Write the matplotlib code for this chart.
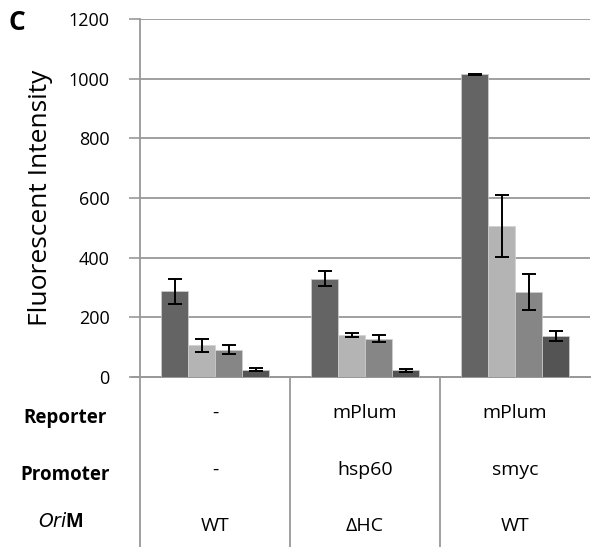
import matplotlib.pyplot as plt
import numpy as np

# fluorescence per construct, four measurements each
constructs = ['WT', 'ΔHC', 'WT']
reporter = ['-', 'mPlum', 'mPlum']
promoter = ['-', 'hsp60', 'smyc']
series_vals = [
    [287, 330, 1015],
    [106, 140, 505],
    [92, 129, 284],
    [25, 22, 137],
]
series_err = [
    [41, 26, 2],
    [21, 7, 104],
    [16, 13, 60],
    [6, 6, 16],
]
colors = ['#646464', '#b4b4b4', '#868686', '#545454']
yticks = [0, 200, 400, 600, 800, 1000, 1200]

plt.rcParams['font.family'] = ['Open Sans', 'DejaVu Sans']

fig = plt.figure(figsize=(5.92, 5.47), dpi=100)
ax = fig.add_axes([140 / 592, 1 - 377 / 547, 450 / 592, 358 / 547])

x = np.arange(len(constructs))
w = 0.18
for i in range(4):
    ax.bar(x + (i - 1.5) * w, series_vals[i], w, color=colors[i],
           edgecolor='#d0d0d0', linewidth=0.5, zorder=3,
           yerr=series_err[i], capsize=5,
           error_kw=dict(ecolor='black', elinewidth=1.4, capthick=1.4, zorder=4))

ax.set_xlim(-0.5, 2.5)
ax.set_ylim(0, 1200)
ax.set_yticks(yticks)
ax.set_yticklabels([str(v) for v in yticks], fontsize=13)
ax.set_xticks([])
ax.yaxis.grid(True, color='#999999', linewidth=1.3, zorder=0)
ax.tick_params(axis='y', length=8, width=1.2, color='#999999', pad=14)
for s in ['top', 'right']:
    ax.spines[s].set_visible(False)
for s in ['left', 'bottom']:
    ax.spines[s].set_color('#999999')
    ax.spines[s].set_linewidth(1.3)

fig.text(41 / 592, 1 - 198 / 547, 'Fluorescent Intensity', rotation=90,
         ha='center', va='center', fontsize=19, color='black')

# table under the axis
trans = ax.get_xaxis_transform()
ax.plot([-0.5 - 0.053, 2.5], [0, 0], color='#999999', lw=1.3, transform=trans, clip_on=False)
for b in [-0.5, 0.5, 1.5]:
    ax.plot([b, b], [0, -0.5], color='#999999', lw=1.3, transform=trans, clip_on=False)

row_y = [413, 470, 526]
rows = [reporter, promoter, constructs]
for ry, vals in zip(row_y, rows):
    yy = 1 - ry / 547
    for xi, v in zip(x, vals):
        fig.text((140 + 150 * xi + 75) / 592, yy, v, ha='center', va='center', fontsize=14)

fig.text(65 / 592, 1 - 418 / 547, 'Reporter', ha='center', va='center', fontsize=13.5, fontweight='bold')
fig.text(65 / 592, 1 - 475 / 547, 'Promoter', ha='center', va='center', fontsize=13.5, fontweight='bold')
fig.text(61 / 592, 1 - 522 / 547, r'$\bf{\it{Ori}}$M', ha='center', va='center', fontsize=13.5, fontweight='bold')

fig.text(17 / 592, 1 - 22 / 547, 'C', ha='center', va='center', fontsize=19, fontweight='bold')

fig.savefig('out.png', dpi=100)
